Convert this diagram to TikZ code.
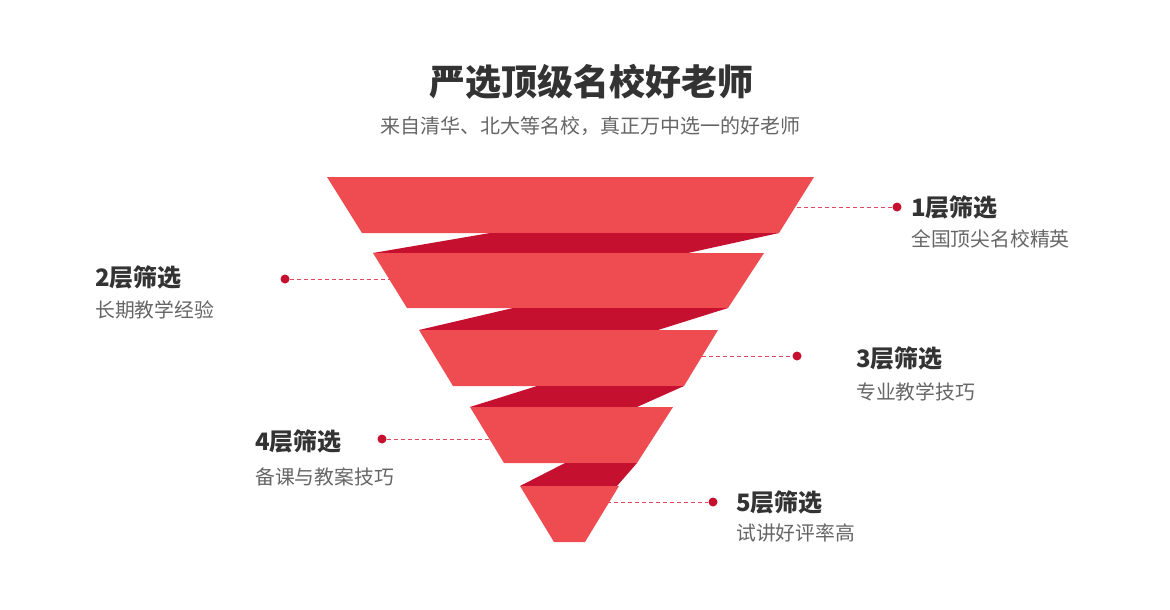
\documentclass[tikz,border=0pt]{standalone}
\usepackage{fontspec}
\newfontfamily\cjk{Noto Sans CJK SC}
\definecolor{bandred}{RGB}{239,76,81}
\definecolor{foldred}{RGB}{198,16,48}
\definecolor{leaderred}{RGB}{222,72,92}
\definecolor{textdark}{RGB}{51,51,51}
\definecolor{textgray}{RGB}{102,102,102}
\tikzset{
    band/.style={fill=bandred},
    fold/.style={fill=foldred},
    dot/.style={circle, fill=foldred, inner sep=0pt, minimum size=9pt},
    leader/.style={draw=leaderred, line width=0.8pt, dash pattern=on 4pt off 3pt},
    headline/.style={anchor=west, inner sep=0pt, color=textdark, font=\cjk\bfseries\fontsize{24}{27}\selectfont},
    subline/.style={anchor=west, inner sep=0pt, color=textgray, font=\cjk\fontsize{19.8}{22}\selectfont},
}

\begin{document}
\begin{tikzpicture}[x=1pt, y=-1pt]
    \useasboundingbox[fill=white] (0,0) rectangle (1170,610);

    % Title
    \node[inner sep=0pt, color=textdark, font=\cjk\bfseries\fontsize{36}{40}\selectfont] (title) at (591,82) {严选顶级名校好老师};
    \node[inner sep=0pt, color=textgray, font=\cjk\fontsize{20}{23}\selectfont] (subtitle) at (590,126) {来自清华、北大等名校，真正万中选一的好老师};

    % Leader lines (run under the funnel)
    \node[dot] (d1) at (897,207) {};
    \node[dot] (d2) at (285,279) {};
    \node[dot] (d3) at (797,356) {};
    \node[dot] (d4) at (382,439) {};
    \node[dot] (d5) at (713,502) {};
    \coordinate (e1) at (790,207);
    \coordinate (e2) at (400,279);
    \coordinate (e3) at (695,356);
    \coordinate (e4) at (495,439);
    \coordinate (e5) at (600,502);
    \draw[leader] (e1) -- (d1);
    \draw[leader] (d2) -- (e2);
    \draw[leader] (e3) -- (d3);
    \draw[leader] (d4) -- (e4);
    \draw[leader] (e5) -- (d5);

    % Funnel
    \fill[band] (327,177) -- (814,177) -- (779,233) -- (362,233) -- cycle;
    \fill[fold] (490,233) -- (779,233) -- (688,253) -- (373,253) -- cycle;
    \fill[band] (373,253) -- (764,253) -- (728,308) -- (407,308) -- cycle;
    \fill[fold] (513,308) -- (728,308) -- (658,330) -- (419,330) -- cycle;
    \fill[band] (419,330) -- (718,330) -- (684,386) -- (453,386) -- cycle;
    \fill[fold] (537,386) -- (684,386) -- (637,407) -- (470,407) -- cycle;
    \fill[band] (470,407) -- (673,407) -- (637,463) -- (504,463) -- cycle;
    \fill[fold] (565,463) -- (637,463) -- (617,486) -- (520,486) -- cycle;
    \fill[band] (520,486) -- (619,486) -- (585,542) -- (554,542) -- cycle;

    % Labels
    \node[headline] (h1) at (911,207) {1层筛选};
    \node[subline]  (s1) at (911,239) {全国顶尖名校精英};
    \node[headline] (h2) at (95,277) {2层筛选};
    \node[subline]  (s2) at (95,310) {长期教学经验};
    \node[headline] (h3) at (856,358) {3层筛选};
    \node[subline]  (s3) at (856,392) {专业教学技巧};
    \node[headline] (h4) at (255,441) {4层筛选};
    \node[subline]  (s4) at (255,477) {备课与教案技巧};
    \node[headline] (h5) at (736,502) {5层筛选};
    \node[subline]  (s5) at (736,533) {试讲好评率高};
\end{tikzpicture}
\end{document}
